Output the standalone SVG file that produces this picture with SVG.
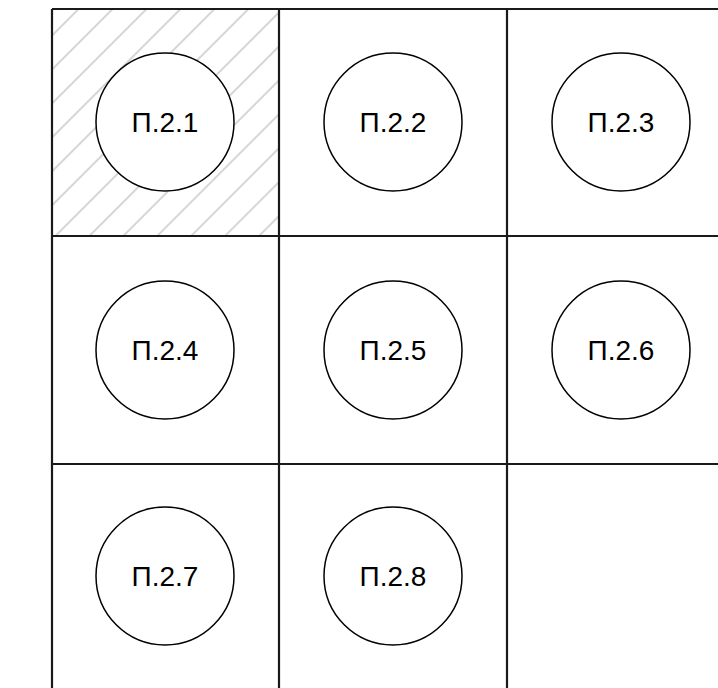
<svg xmlns="http://www.w3.org/2000/svg" width="718" height="688" viewBox="0 0 718 688">
  <defs>
    <pattern id="hatch" patternUnits="userSpaceOnUse" width="24" height="24" patternTransform="rotate(45)">
      <line x1="14" y1="0" x2="14" y2="24" stroke="#c4c4c4" stroke-width="1.4"/>
    </pattern>
    <style>
      .grid { stroke: #1a1a1a; stroke-width: 2.2; fill: none; }
      .node circle { fill: #fff; stroke: #000; stroke-width: 1.5; }
      .node text { font-family: "Liberation Sans", Arial, sans-serif; font-size: 28px; fill: #000; text-anchor: middle; }
    </style>
  </defs>
  <rect width="718" height="688" fill="#fff"/>
  <rect x="52" y="9" width="227" height="227" fill="url(#hatch)"/>
  <g id="grid" class="grid">
    <line x1="52" y1="9" x2="718" y2="9"/>
    <line x1="52" y1="236" x2="718" y2="236"/>
    <line x1="52" y1="464" x2="718" y2="464"/>
    <line x1="52" y1="9" x2="52" y2="688"/>
    <line x1="279" y1="9" x2="279" y2="688"/>
    <line x1="507" y1="9" x2="507" y2="688"/>
  </g>
  <g id="n1" class="node"><circle cx="165" cy="122" r="69"/><text x="165" y="132">П.2.1</text></g>
  <g id="n2" class="node"><circle cx="393" cy="122" r="69"/><text x="393" y="132">П.2.2</text></g>
  <g id="n3" class="node"><circle cx="621" cy="122" r="69"/><text x="621" y="132">П.2.3</text></g>
  <g id="n4" class="node"><circle cx="165" cy="350" r="69"/><text x="165" y="360">П.2.4</text></g>
  <g id="n5" class="node"><circle cx="393" cy="350" r="69"/><text x="393" y="360">П.2.5</text></g>
  <g id="n6" class="node"><circle cx="621" cy="350" r="69"/><text x="621" y="360">П.2.6</text></g>
  <g id="n7" class="node"><circle cx="165" cy="576" r="69"/><text x="165" y="586">П.2.7</text></g>
  <g id="n8" class="node"><circle cx="393" cy="576" r="69"/><text x="393" y="586">П.2.8</text></g>
</svg>
